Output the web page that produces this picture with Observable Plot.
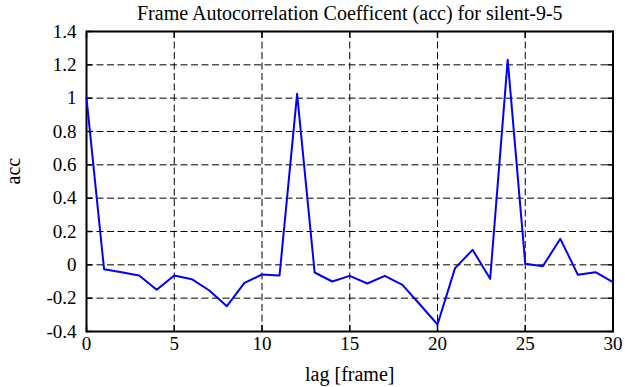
<!DOCTYPE html>
<html><head><meta charset="utf-8">
<script src="https://cdn.jsdelivr.net/npm/d3@7"></script>
<script src="https://cdn.jsdelivr.net/npm/@observablehq/plot@0.6"></script>
<style>body{margin:0;background:#fff} svg text{font-family:'Liberation Serif','Times New Roman',serif !important; font-variant: normal !important}</style>
</head><body><div id="chart"></div>
<script>
const lags = [0,1,2,3,4,5,6,7,8,9,10,11,12,13,14,15,16,17,18,19,20,21,22,23,24,25,26,27,28,29,30];
const acc = [1.0,-0.026,-0.044,-0.064,-0.15,-0.064,-0.086,-0.154,-0.248,-0.108,-0.058,-0.064,1.026,-0.046,-0.1,-0.066,-0.112,-0.066,-0.12,-0.238,-0.358,-0.02,0.09,-0.084,1.23,0.006,-0.008,0.156,-0.06,-0.044,-0.104];
const xTicks = [0,5,10,15,20,25,30];
const yTicks = [-0.4,-0.2,0,0.2,0.4,0.6,0.8,1,1.2,1.4];
const yTickLabels = ["-0.4","-0.2","0","0.2","0.4","0.6","0.8","1","1.2","1.4"];
const title = "Frame Autocorrelation Coefficent (acc) for silent-9-5";
const xLabel = "lag [frame]";
const yLabel = "acc";

const data = lags.map((l,i)=>({lag:l, acc:acc[i]}));
const font = "'Liberation Serif', 'Times New Roman', serif";

const chart = Plot.plot({
  width: 625, height: 387,
  marginLeft: 86, marginRight: 12.5, marginTop: 31, marginBottom: 56,
  style: {fontFamily: font, fontSize: "18px", color: "black", background: "white", overflow: "visible"},
  x: {domain: [0,30]},
  y: {domain: [-0.4,1.4]},
  marks: [
    Plot.gridX(xTicks, {stroke: "black", strokeOpacity: 1, strokeDasharray: "7,3.5", strokeWidth: 1}),
    Plot.gridY(yTicks, {stroke: "black", strokeOpacity: 1, strokeDasharray: "7,3.5", strokeWidth: 1}),
    Plot.axisX(xTicks, {anchor: "bottom", tickSize: -6, strokeWidth: 1.5, label: null, tickFormat: () => ""}),
    Plot.axisX(xTicks, {anchor: "top", tickSize: -6, strokeWidth: 1.5, label: null, tickFormat: () => ""}),
    Plot.axisY(yTicks, {anchor: "left", tickSize: -6, strokeWidth: 1.5, label: null, tickFormat: () => ""}),
    Plot.axisY(yTicks, {anchor: "right", tickSize: -6, strokeWidth: 1.5, label: null, tickFormat: () => ""}),
    Plot.text(xTicks, {x: d => d, frameAnchor: "bottom", lineAnchor: "top", dy: 5, text: d => String(d), fontSize: 19, fill: "black", fontFamily: font}),
    Plot.text(yTicks, {y: d => d, frameAnchor: "left", textAnchor: "end", dx: -10, text: (d, i) => yTickLabels[i], fontSize: 19, fill: "black", fontFamily: font}),
    Plot.frame({stroke: "black", strokeWidth: 2}),
    Plot.line(data, {x: "lag", y: "acc", stroke: "#0000ff", strokeWidth: 2}),
    Plot.text([title], {frameAnchor: "top", dy: -26, text: d => d, fontSize: 20, fill: "black", fontFamily: font}),
    Plot.text([xLabel], {frameAnchor: "bottom", dy: 49, text: d => d, fontSize: 20, fill: "black", fontFamily: font}),
    Plot.text([yLabel], {frameAnchor: "left", dx: -73, dy: 3, rotate: -90, text: d => d, fontSize: 20, fill: "black", fontFamily: font})
  ]
});
document.getElementById("chart").appendChild(chart);
</script>
</body></html>
